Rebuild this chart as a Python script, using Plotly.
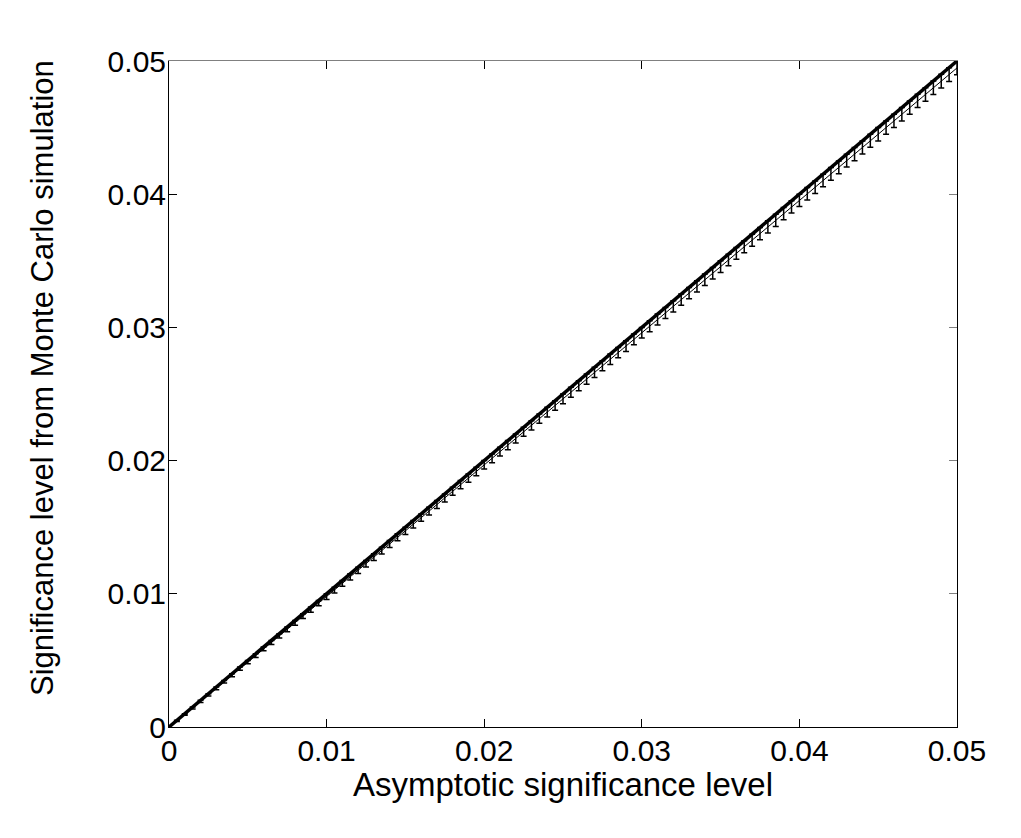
import plotly.graph_objects as go

# Asymptotic significance levels (x) and Monte Carlo estimates (y) with error half-widths
asym_level = [
    0.0005, 0.0010, 0.0015, 0.0020, 0.0025, 0.0030, 0.0035, 0.0040, 0.0045, 0.0050,
    0.0055, 0.0060, 0.0065, 0.0070, 0.0075, 0.0080, 0.0085, 0.0090, 0.0095, 0.0100,
    0.0105, 0.0110, 0.0115, 0.0120, 0.0125, 0.0130, 0.0135, 0.0140, 0.0145, 0.0150,
    0.0155, 0.0160, 0.0165, 0.0170, 0.0175, 0.0180, 0.0185, 0.0190, 0.0195, 0.0200,
    0.0205, 0.0210, 0.0215, 0.0220, 0.0225, 0.0230, 0.0235, 0.0240, 0.0245, 0.0250,
    0.0255, 0.0260, 0.0265, 0.0270, 0.0275, 0.0280, 0.0285, 0.0290, 0.0295, 0.0300,
    0.0305, 0.0310, 0.0315, 0.0320, 0.0325, 0.0330, 0.0335, 0.0340, 0.0345, 0.0350,
    0.0355, 0.0360, 0.0365, 0.0370, 0.0375, 0.0380, 0.0385, 0.0390, 0.0395, 0.0400,
    0.0405, 0.0410, 0.0415, 0.0420, 0.0425, 0.0430, 0.0435, 0.0440, 0.0445, 0.0450,
    0.0455, 0.0460, 0.0465, 0.0470, 0.0475, 0.0480, 0.0485, 0.0490, 0.0495, 0.0500,
]
mc_level = [
    0.00046, 0.00094, 0.00143, 0.00192, 0.00241, 0.00290, 0.00340, 0.00389, 0.00438, 0.00487,
    0.00536, 0.00586, 0.00635, 0.00684, 0.00733, 0.00782, 0.00832, 0.00881, 0.00930, 0.00979,
    0.01028, 0.01078, 0.01127, 0.01176, 0.01226, 0.01275, 0.01324, 0.01374, 0.01424, 0.01473,
    0.01522, 0.01572, 0.01621, 0.01670, 0.01720, 0.01770, 0.01819, 0.01869, 0.01918, 0.01968,
    0.02017, 0.02067, 0.02116, 0.02166, 0.02216, 0.02265, 0.02315, 0.02364, 0.02414, 0.02463,
    0.02513, 0.02562, 0.02612, 0.02662, 0.02712, 0.02761, 0.02811, 0.02860, 0.02910, 0.02960,
    0.03009, 0.03059, 0.03108, 0.03158, 0.03208, 0.03258, 0.03308, 0.03357, 0.03407, 0.03456,
    0.03506, 0.03556, 0.03605, 0.03655, 0.03704, 0.03754, 0.03804, 0.03854, 0.03904, 0.03954,
    0.04003, 0.04053, 0.04103, 0.04152, 0.04202, 0.04252, 0.04301, 0.04351, 0.04401, 0.04450,
    0.04500, 0.04550, 0.04600, 0.04650, 0.04700, 0.04749, 0.04799, 0.04849, 0.04898, 0.04948,
]
mc_err = [
    0.00004, 0.00006, 0.00007, 0.00008, 0.00009, 0.00010, 0.00010, 0.00011, 0.00012, 0.00013,
    0.00014, 0.00014, 0.00015, 0.00016, 0.00017, 0.00018, 0.00018, 0.00019, 0.00020, 0.00021,
    0.00022, 0.00022, 0.00023, 0.00024, 0.00024, 0.00025, 0.00026, 0.00026, 0.00026, 0.00027,
    0.00028, 0.00028, 0.00029, 0.00030, 0.00030, 0.00030, 0.00031, 0.00031, 0.00032, 0.00032,
    0.00033, 0.00033, 0.00034, 0.00034, 0.00034, 0.00035, 0.00035, 0.00036, 0.00036, 0.00037,
    0.00037, 0.00038, 0.00038, 0.00038, 0.00038, 0.00039, 0.00039, 0.00040, 0.00040, 0.00040,
    0.00041, 0.00041, 0.00042, 0.00042, 0.00042, 0.00042, 0.00042, 0.00043, 0.00043, 0.00044,
    0.00044, 0.00044, 0.00045, 0.00045, 0.00046, 0.00046, 0.00046, 0.00046, 0.00046, 0.00046,
    0.00047, 0.00047, 0.00047, 0.00048, 0.00048, 0.00048, 0.00049, 0.00049, 0.00049, 0.00050,
    0.00050, 0.00050, 0.00050, 0.00050, 0.00050, 0.00051, 0.00051, 0.00051, 0.00052, 0.00052,
]

# Reference diagonal (y = x)
diag_x = [0.0, 0.05]
diag_y = [0.0, 0.05]

tick_vals = [0, 0.01, 0.02, 0.03, 0.04, 0.05]
tick_text = ["0", "0.01", "0.02", "0.03", "0.04", "0.05"]

x_title = "Asymptotic significance level"
y_title = "Significance level from Monte Carlo simulation"

FONT = "Liberation Sans, Arial, Helvetica, sans-serif"

fig = go.Figure()

fig.add_trace(go.Scatter(
    x=asym_level, y=mc_level, mode="lines",
    line=dict(color="black", width=1),
    error_y=dict(type="data", array=mc_err, visible=True,
                 color="black", thickness=1.5, width=3),
    showlegend=False,
))

fig.add_trace(go.Scatter(
    x=diag_x, y=diag_y, mode="lines",
    line=dict(color="black", width=3.5),
    showlegend=False, hoverinfo="skip",
))

# dummy trace to create the mirror (top/right) axes
fig.add_trace(go.Scatter(x=[None], y=[None], xaxis="x2", yaxis="y2",
                         showlegend=False, hoverinfo="skip"))

axis_common = dict(
    range=[0, 0.05], tickvals=tick_vals, ticktext=tick_text,
    ticks="inside", ticklen=8, showgrid=False, zeroline=False,
    showline=True, linewidth=1,
)

fig.update_layout(
    width=1021, height=838,
    paper_bgcolor="white", plot_bgcolor="white",
    margin=dict(l=161, r=72, t=53, b=119, autoexpand=False),
    font=dict(family=FONT, color="black"),
    xaxis=dict(
        **axis_common, linecolor="black", tickcolor="black",
        tickfont=dict(size=30, family=FONT, color="black"),
        ticklabelstandoff=-3,
    ),
    yaxis=dict(
        **axis_common, linecolor="black", tickcolor="black",
        tickfont=dict(size=30, family=FONT, color="black"),
        ticklabelstandoff=-4,
    ),
    xaxis2=dict(
        **axis_common, overlaying="x", side="top", anchor="y2",
        linecolor="#808080", tickcolor="black", showticklabels=False,
    ),
    yaxis2=dict(
        **axis_common, overlaying="y", side="right", anchor="x2",
        linecolor="black", tickcolor="#808080", showticklabels=False,
    ),
    annotations=[
        dict(text=x_title, xref="paper", yref="paper", x=0.5, y=0,
             xanchor="center", yanchor="middle", yshift=-57, showarrow=False,
             font=dict(size=33, family=FONT, color="black")),
        dict(text=y_title, xref="paper", yref="paper", x=0, y=0.5,
             xanchor="center", yanchor="middle", xshift=-127, yshift=16,
             textangle=-90, showarrow=False,
             font=dict(size=31, family=FONT, color="black")),
    ],
)

fig.write_html("out.html")
